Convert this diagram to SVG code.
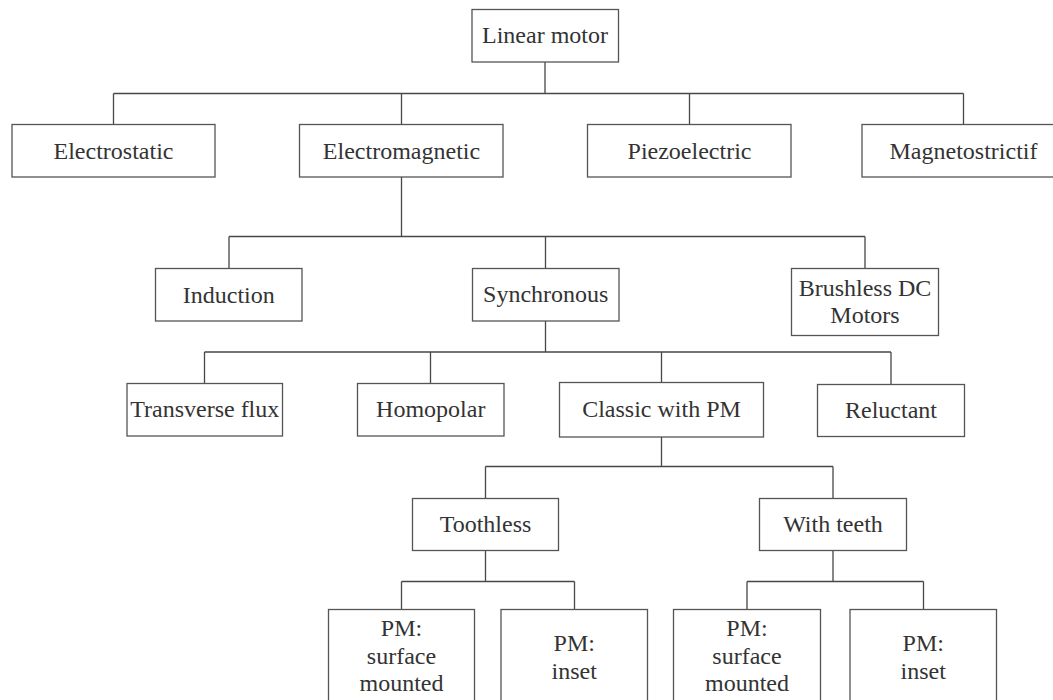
<svg xmlns="http://www.w3.org/2000/svg" width="1053" height="700" viewBox="0 0 1053 700">
  <style>
    .box { fill: #ffffff; stroke: #555555; stroke-width: 1.3; }
    .lbl { font-family: "Liberation Serif", "Times New Roman", serif; font-size: 24px; fill: #333333; text-anchor: middle; }
    .wire { fill: none; stroke: #474747; stroke-width: 1.3; }
  </style>
  <rect width="1053" height="700" fill="#ffffff"/>

  <!-- tree connectors -->
  <g id="connectors" class="wire">
    <!-- Linear motor -> level 1 -->
    <path d="M545 62 V93.5 M113.5 93.5 H963.5 M113.5 93.5 V124.5 M401.5 93.5 V124.5 M689.5 93.5 V124.5 M963.5 93.5 V124.5"/>
    <!-- Electromagnetic -> level 2 -->
    <path d="M401.5 177 V236.5 M229 236.5 H865 M229 236.5 V268.5 M545.5 236.5 V268.5 M865 236.5 V268.5"/>
    <!-- Synchronous -> level 3 -->
    <path d="M545.5 321 V352 M204.5 352 H891 M204.5 352 V383.5 M430.5 352 V383.5 M661.5 352 V382.5 M891 352 V384.5"/>
    <!-- Classic with PM -> level 4 -->
    <path d="M661.5 437 V466.5 M485.5 466.5 H833 M485.5 466.5 V498.5 M833 466.5 V498.5"/>
    <!-- Toothless -> PM variants -->
    <path d="M485.5 550.5 V581.5 M401.5 581.5 H574.5 M401.5 581.5 V609.5 M574.5 581.5 V609.5"/>
    <!-- With teeth -> PM variants -->
    <path d="M833 550.5 V581.5 M747 581.5 H923.5 M747 581.5 V609.5 M923.5 581.5 V609.5"/>
  </g>

  <!-- root -->
  <g id="linear-motor">
    <rect class="box" x="472" y="9.5" width="146.5" height="52.5"/>
    <text class="lbl" x="545" y="43">Linear motor</text>
  </g>

  <!-- level 1 -->
  <g id="electrostatic">
    <rect class="box" x="12" y="124.5" width="203" height="52.5"/>
    <text class="lbl" x="113.5" y="158.5">Electrostatic</text>
  </g>
  <g id="electromagnetic">
    <rect class="box" x="299.5" y="124.5" width="203.5" height="52.5"/>
    <text class="lbl" x="401.5" y="158.5">Electromagnetic</text>
  </g>
  <g id="piezoelectric">
    <rect class="box" x="587.5" y="124.5" width="203.5" height="52.5"/>
    <text class="lbl" x="689.5" y="158.5">Piezoelectric</text>
  </g>
  <g id="magnetostrictif">
    <rect class="box" x="862" y="124.5" width="203.5" height="52.5"/>
    <text class="lbl" x="963.5" y="158.5">Magnetostrictif</text>
  </g>

  <!-- level 2 -->
  <g id="induction">
    <rect class="box" x="155.5" y="268.5" width="146.5" height="52.5"/>
    <text class="lbl" x="228.75" y="302.5">Induction</text>
  </g>
  <g id="synchronous">
    <rect class="box" x="472.5" y="268.5" width="146.5" height="52.5"/>
    <text class="lbl" x="545.75" y="302">Synchronous</text>
  </g>
  <g id="brushless-dc">
    <rect class="box" x="791.5" y="268.5" width="147" height="67"/>
    <text class="lbl" x="865" y="295.7">Brushless DC</text>
    <text class="lbl" x="865" y="323.3">Motors</text>
  </g>

  <!-- level 3 -->
  <g id="transverse-flux">
    <rect class="box" x="127" y="383.5" width="155.5" height="52.5"/>
    <text class="lbl" x="204.75" y="417">Transverse flux</text>
  </g>
  <g id="homopolar">
    <rect class="box" x="357.5" y="383.5" width="146.5" height="52.5"/>
    <text class="lbl" x="430.75" y="417">Homopolar</text>
  </g>
  <g id="classic-pm">
    <rect class="box" x="559.5" y="382.5" width="204" height="54.5"/>
    <text class="lbl" x="661.5" y="417">Classic with PM</text>
  </g>
  <g id="reluctant">
    <rect class="box" x="817.5" y="384.5" width="147" height="52"/>
    <text class="lbl" x="891" y="418">Reluctant</text>
  </g>

  <!-- level 4 -->
  <g id="toothless">
    <rect class="box" x="412.5" y="498.5" width="146" height="52"/>
    <text class="lbl" x="485.5" y="532">Toothless</text>
  </g>
  <g id="with-teeth">
    <rect class="box" x="759.5" y="498.5" width="147" height="52"/>
    <text class="lbl" x="833" y="532">With teeth</text>
  </g>

  <!-- level 5 -->
  <g id="toothless-surface">
    <rect class="box" x="328.5" y="609.5" width="146" height="110"/>
    <text class="lbl" x="401.5" y="636">PM:</text>
    <text class="lbl" x="401.5" y="664">surface</text>
    <text class="lbl" x="401.5" y="691">mounted</text>
  </g>
  <g id="toothless-inset">
    <rect class="box" x="501" y="609.5" width="146.5" height="110"/>
    <text class="lbl" x="574.25" y="650.5">PM:</text>
    <text class="lbl" x="574.25" y="678.5">inset</text>
  </g>
  <g id="teeth-surface">
    <rect class="box" x="673.5" y="609.5" width="147" height="110"/>
    <text class="lbl" x="747" y="636">PM:</text>
    <text class="lbl" x="747" y="664">surface</text>
    <text class="lbl" x="747" y="691">mounted</text>
  </g>
  <g id="teeth-inset">
    <rect class="box" x="850" y="609.5" width="146.5" height="110"/>
    <text class="lbl" x="923.25" y="650.5">PM:</text>
    <text class="lbl" x="923.25" y="678.5">inset</text>
  </g>
</svg>
